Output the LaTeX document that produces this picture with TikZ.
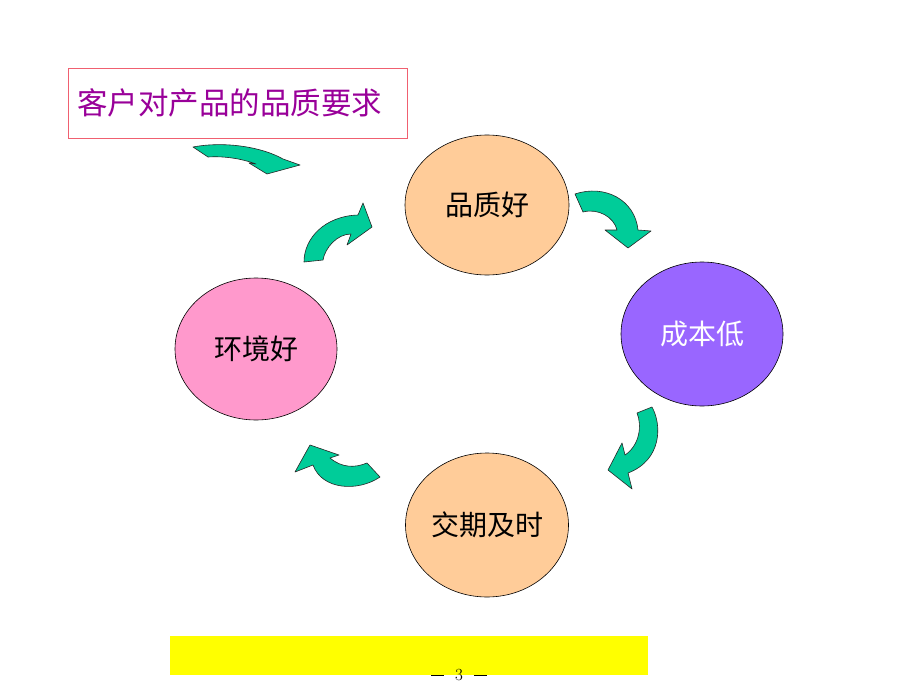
\documentclass[tikz,border=0pt]{standalone}
\usepackage{fontspec}
\newfontfamily\cjk{Noto Sans CJK SC}
\usetikzlibrary{shapes.geometric}
\definecolor{peach}{HTML}{FFCC99}
\definecolor{violetfill}{HTML}{9966FF}
\definecolor{pinkfill}{HTML}{FF99CC}
\definecolor{arrowgreen}{HTML}{00CC99}
\definecolor{titleborder}{HTML}{F06070}
\definecolor{titletext}{HTML}{990099}
\definecolor{barfill}{HTML}{FFFF00}
\tikzset{
  bubble/.style={ellipse, draw=black, line width=0.6pt, minimum width=164pt, minimum height=140pt, inner sep=0pt, font=\cjk\fontsize{28}{30}\selectfont},
  greenbend/.style={fill=arrowgreen, draw=black!85, line width=0.6pt, line join=round},
  titlebox/.style={draw=titleborder, line width=0.8pt, minimum width=339pt, minimum height=70pt, inner sep=0pt, text=titletext, font=\cjk\fontsize{30.5}{32}\selectfont}
}
\begin{document}
\begin{tikzpicture}[x=1pt,y=-1pt]
\useasboundingbox (0,0) rectangle (920,690);
\fill[white] (0,0) rectangle (920,690);
% title
\node[titlebox] (title) at (237.5,103) {客户对产品的品质要求\hspace*{16pt}};
% bubbles
\node[bubble, fill=peach] (quality) at (487,205) {品质好};
\node[bubble, fill=violetfill, text=white, minimum height=144pt, minimum width=162pt] (cost) at (702,334) {成本低};
\node[bubble, fill=pinkfill, minimum height=142pt, minimum width=162pt] (env) at (256,349) {环境好};
\node[bubble, fill=peach, minimum height=144pt, minimum width=163pt] (deliv) at (487,525) {交期及时};
% curved block arrows
\draw[greenbend] (193,147) .. controls (225,141) and (262,147) .. (283,159) -- (300,165) -- (267,174) -- (249,163) -- (256,164) .. controls (240,158) and (222,156) .. (208,157) -- cycle;
\draw[greenbend] (304,262) .. controls (304,238) and (325,216) .. (358,215) -- (363,203) -- (372,227) -- (347,245) -- (351,234) .. controls (337,234) and (325,248) .. (323,260) -- cycle;
\draw[greenbend] (575,194) .. controls (605,184) and (635,200) .. (638,230) -- (651,231) -- (628,248) -- (605,230) -- (617,230) .. controls (614,217) and (598,208) .. (583,212) -- cycle;
\draw[greenbend] (652,407) .. controls (662,425) and (662,460) .. (628,473) -- (632,489) -- (608,470) -- (622,443) -- (625,455) .. controls (640,445) and (642,425) .. (637,413) -- cycle;
\draw[greenbend] (367,463) -- (380,477) .. controls (358,492) and (322,490) .. (313,465) -- (295,472) -- (310,445) -- (339,455) -- (330,458) .. controls (342,468) and (355,468) .. (367,463) -- cycle;
% bottom bar
\node[fill=barfill, minimum width=478pt, minimum height=39pt, inner sep=0pt] (bar) at (409,655.5) {};
\node[font=\fontsize{17}{18}\selectfont, inner sep=0pt] (page) at (459,675) {\rule[5pt]{13pt}{0.8pt}\hspace{11pt}3\hspace{11pt}\rule[5pt]{13pt}{0.8pt}};
\end{tikzpicture}
\end{document}
